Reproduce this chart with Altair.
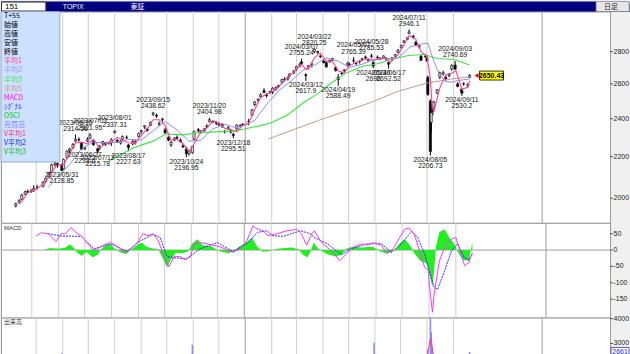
import altair as alt
import pandas as pd

# ---------------- daily candles (sampled) ----------------
c_dates = [
    "2023-04-07", "2023-04-11", "2023-04-14", "2023-04-18", "2023-04-21", "2023-04-25", "2023-04-28",
    "2023-05-02", "2023-05-09", "2023-05-12", "2023-05-16", "2023-05-19", "2023-05-23", "2023-05-26", "2023-05-31",
    "2023-06-02", "2023-06-06", "2023-06-09", "2023-06-13", "2023-06-16", "2023-06-20", "2023-06-23", "2023-06-27", "2023-06-30",
    "2023-07-03", "2023-07-07", "2023-07-12", "2023-07-14", "2023-07-18", "2023-07-21", "2023-07-25", "2023-07-28",
    "2023-08-01", "2023-08-04", "2023-08-08", "2023-08-10", "2023-08-15", "2023-08-17", "2023-08-22", "2023-08-25", "2023-08-29",
    "2023-09-01", "2023-09-05", "2023-09-08", "2023-09-12", "2023-09-15", "2023-09-19", "2023-09-22", "2023-09-26", "2023-09-29",
    "2023-10-03", "2023-10-06", "2023-10-10", "2023-10-13", "2023-10-17", "2023-10-20", "2023-10-24", "2023-10-27", "2023-10-31",
    "2023-11-02", "2023-11-07", "2023-11-10", "2023-11-14", "2023-11-17", "2023-11-20", "2023-11-24", "2023-11-28",
    "2023-12-01", "2023-12-05", "2023-12-08", "2023-12-12", "2023-12-15", "2023-12-18", "2023-12-22", "2023-12-26", "2023-12-29",
    "2024-01-05", "2024-01-09", "2024-01-12", "2024-01-16", "2024-01-19", "2024-01-23", "2024-01-26", "2024-01-30",
    "2024-02-02", "2024-02-06", "2024-02-09", "2024-02-13", "2024-02-16", "2024-02-20", "2024-02-22", "2024-02-27",
    "2024-03-01", "2024-03-05", "2024-03-07", "2024-03-12", "2024-03-15", "2024-03-19", "2024-03-22", "2024-03-26", "2024-03-29",
    "2024-04-02", "2024-04-05", "2024-04-09", "2024-04-12", "2024-04-16", "2024-04-19", "2024-04-23", "2024-04-26", "2024-04-30",
    "2024-05-02", "2024-05-07", "2024-05-10", "2024-05-14", "2024-05-17", "2024-05-21", "2024-05-24", "2024-05-28", "2024-05-30",
    "2024-06-04", "2024-06-07", "2024-06-11", "2024-06-14", "2024-06-17", "2024-06-21", "2024-06-25", "2024-06-28",
    "2024-07-02", "2024-07-05", "2024-07-09", "2024-07-11", "2024-07-16", "2024-07-19", "2024-07-23", "2024-07-25", "2024-07-30",
    "2024-08-01", "2024-08-02", "2024-08-05", "2024-08-06", "2024-08-08", "2024-08-09", "2024-08-13", "2024-08-16", "2024-08-20", "2024-08-23", "2024-08-27", "2024-08-30",
    "2024-09-03", "2024-09-06", "2024-09-10", "2024-09-11", "2024-09-13", "2024-09-18", "2024-09-20",
]
c_open = [
    1965, 1980, 1995, 2018, 2030, 2030, 2035,
    2048, 2055, 2080, 2098, 2125, 2160, 2165, 2160,
    2140, 2195, 2230, 2245, 2280, 2288, 2270, 2240, 2280,
    2295, 2280, 2240, 2240, 2265, 2270, 2270, 2270,
    2325, 2285, 2270, 2290, 2300, 2260, 2265, 2270, 2305,
    2330, 2355, 2345, 2365, 2425, 2420, 2370, 2395, 2340,
    2300, 2260, 2285, 2300, 2285, 2255, 2240, 2215, 2220,
    2290, 2340, 2325, 2335, 2360, 2385, 2385, 2380,
    2368, 2370, 2330, 2345, 2335, 2315, 2345, 2360, 2370,
    2385, 2420, 2480, 2505, 2525, 2560, 2535, 2550,
    2550, 2570, 2585, 2610, 2625, 2630, 2650, 2670,
    2690, 2710, 2735, 2655, 2700, 2720, 2800, 2800, 2770,
    2740, 2730, 2735, 2745, 2700, 2640, 2665, 2680, 2715,
    2720, 2740, 2725, 2735, 2750, 2765, 2745, 2770, 2730,
    2765, 2755, 2760, 2755, 2730, 2750, 2770, 2795,
    2825, 2860, 2880, 2920, 2900, 2860, 2830, 2770, 2770,
    2760, 2640, 2500, 2380, 2450, 2460, 2545, 2640, 2660, 2640, 2650, 2690,
    2715, 2600, 2560, 2560, 2600, 2590, 2640,
]
c_high = [
    1980, 1995, 2020, 2035, 2040, 2042, 2060,
    2062, 2080, 2098, 2125, 2165, 2175, 2170, 2165,
    2190, 2232, 2245, 2270, 2314.56, 2300, 2275, 2250, 2300,
    2321.95, 2285, 2245, 2260, 2282, 2275, 2278, 2295,
    2337.31, 2290, 2285, 2310, 2310, 2265, 2285, 2285, 2325,
    2340, 2365, 2350, 2385, 2438.62, 2428, 2385, 2405, 2350,
    2305, 2280, 2300, 2310, 2295, 2265, 2250, 2235, 2255,
    2335, 2350, 2340, 2350, 2370, 2404.98, 2392, 2385,
    2380, 2375, 2340, 2360, 2345, 2325, 2370, 2370, 2375,
    2400, 2455, 2500, 2515, 2545, 2575, 2545, 2560,
    2580, 2585, 2595, 2630, 2640, 2645, 2665, 2685,
    2710, 2730, 2755.24, 2665, 2715, 2730, 2820.25, 2805, 2780,
    2750, 2740, 2750, 2760, 2705, 2660, 2675, 2690, 2735,
    2730, 2765.39, 2735, 2745, 2760, 2775, 2755, 2785.53, 2740,
    2775, 2765, 2775, 2765, 2735, 2765, 2785, 2815,
    2845, 2875, 2895, 2946.1, 2910, 2870, 2845, 2780, 2785,
    2770, 2650, 2510, 2440, 2470, 2500, 2570, 2675, 2680, 2650, 2665, 2720,
    2740.69, 2610, 2575, 2570, 2610, 2605, 2660,
]
c_low = [
    1958, 1975, 1992, 2015, 2022, 2025, 2030,
    2040, 2050, 2070, 2095, 2120, 2150, 2145, 2128.85,
    2138, 2190, 2220, 2240, 2275, 2278, 2235, 2233.6, 2275,
    2290, 2255, 2215.78, 2235, 2260, 2255, 2262, 2255,
    2320, 2270, 2262, 2285, 2290, 2227.63, 2258, 2262, 2300,
    2320, 2345, 2330, 2360, 2415, 2405, 2360, 2385, 2320,
    2280, 2250, 2280, 2290, 2270, 2245, 2196.95, 2205, 2215,
    2285, 2325, 2320, 2330, 2350, 2380, 2375, 2365,
    2360, 2350, 2320, 2340, 2320, 2295.51, 2340, 2355, 2360,
    2365, 2415, 2470, 2495, 2515, 2545, 2520, 2540,
    2540, 2560, 2575, 2600, 2615, 2620, 2640, 2660,
    2680, 2700, 2715, 2617.9, 2690, 2700, 2790, 2785, 2760,
    2725, 2700, 2730, 2740, 2675, 2588.49, 2655, 2665, 2710,
    2710, 2730, 2715, 2725, 2745, 2755, 2735, 2760, 2696,
    2755, 2745, 2755, 2740, 2692.52, 2740, 2765, 2790,
    2820, 2855, 2875, 2915, 2885, 2835, 2820, 2740, 2760,
    2735, 2530, 2206.73, 2330, 2420, 2450, 2540, 2630, 2650, 2620, 2640, 2680,
    2685, 2580, 2545, 2530.2, 2590, 2580, 2635,
]
c_close = [
    1975, 1990, 2015, 2030, 2028, 2035, 2045,
    2050, 2075, 2094, 2120, 2160, 2168, 2157, 2132,
    2186, 2228, 2240, 2263, 2290, 2286, 2238, 2245, 2288,
    2313, 2262, 2228, 2254, 2278, 2263, 2271, 2288,
    2333, 2277, 2280, 2304, 2299, 2247, 2278, 2279, 2320,
    2335, 2362, 2337, 2380, 2432, 2415, 2375, 2399, 2323,
    2285, 2275, 2295, 2296, 2278, 2250, 2215, 2230, 2253,
    2332, 2335, 2330, 2344, 2356, 2395, 2383, 2376,
    2372, 2360, 2332, 2352, 2328, 2310, 2366, 2362, 2366,
    2385, 2450, 2495, 2508, 2536, 2550, 2530, 2555,
    2575, 2580, 2590, 2626, 2630, 2640, 2660, 2677,
    2705, 2720, 2725, 2650, 2710, 2722, 2815, 2796, 2768,
    2731, 2703, 2744, 2756, 2681, 2626, 2662, 2685, 2728,
    2720, 2744, 2727, 2739, 2755, 2760, 2750, 2773, 2710,
    2760, 2757, 2773, 2758, 2720, 2760, 2780, 2809,
    2840, 2869, 2890, 2929, 2895, 2840, 2835, 2745, 2769,
    2742, 2538, 2227, 2434, 2442, 2495, 2564, 2668, 2668, 2632, 2656, 2712,
    2690, 2585, 2565, 2546, 2599, 2598, 2650.43,
]

# ---------------- moving averages ----------------
ma1_dates = ["2023-04-11", "2023-04-14", "2023-04-21", "2023-04-28", "2023-05-02", "2023-05-12", "2023-05-19", "2023-05-26",
             "2023-06-02", "2023-06-09", "2023-06-16", "2023-06-23", "2023-06-30", "2023-07-07", "2023-07-14", "2023-07-21",
             "2023-07-28", "2023-08-04", "2023-08-10", "2023-08-18", "2023-08-25", "2023-09-01", "2023-09-08", "2023-09-15",
             "2023-09-22", "2023-09-29", "2023-10-06", "2023-10-13", "2023-10-20", "2023-10-27", "2023-11-02", "2023-11-10",
             "2023-11-17", "2023-11-24", "2023-12-01", "2023-12-08", "2023-12-15", "2023-12-22", "2023-12-29", "2024-01-05",
             "2024-01-12", "2024-01-19", "2024-01-26", "2024-02-02", "2024-02-09", "2024-02-16", "2024-02-22", "2024-03-01",
             "2024-03-07", "2024-03-12", "2024-03-15", "2024-03-22", "2024-03-29", "2024-04-05", "2024-04-12", "2024-04-19",
             "2024-04-26", "2024-05-02", "2024-05-10", "2024-05-17", "2024-05-24", "2024-05-31", "2024-06-07", "2024-06-14",
             "2024-06-19", "2024-06-28", "2024-07-05", "2024-07-11", "2024-07-19", "2024-07-25", "2024-08-01", "2024-08-05",
             "2024-08-07", "2024-08-09", "2024-08-16", "2024-08-23", "2024-08-30", "2024-09-04", "2024-09-11", "2024-09-18",
             "2024-09-20"]
ma1_vals = [1975, 1985, 2025, 2038, 2045, 2075, 2125, 2160,
            2160, 2215, 2270, 2275, 2265, 2290, 2245, 2265,
            2275, 2300, 2285, 2270, 2268, 2310, 2345, 2395,
            2395, 2365, 2285, 2290, 2268, 2225, 2265, 2330,
            2350, 2388, 2378, 2348, 2340, 2330, 2363, 2375,
            2450, 2520, 2540, 2555, 2583, 2620, 2648, 2690,
            2720, 2690, 2690, 2760, 2790, 2740, 2740, 2680,
            2665, 2710, 2732, 2745, 2755, 2745, 2755, 2760,
            2730, 2780, 2845, 2905, 2880, 2800, 2770, 2630,
            2480, 2440, 2575, 2655, 2665, 2680, 2570, 2580,
            2620]

ma2_dates = ["2023-05-15", "2023-05-26", "2023-06-09", "2023-06-23", "2023-07-07", "2023-07-21", "2023-08-04", "2023-08-18",
             "2023-09-01", "2023-09-15", "2023-09-29", "2023-10-13", "2023-10-27", "2023-11-10", "2023-11-24", "2023-12-08",
             "2023-12-22", "2024-01-12", "2024-01-26", "2024-02-09", "2024-02-22", "2024-03-08", "2024-03-22", "2024-04-05",
             "2024-04-19", "2024-05-02", "2024-05-17", "2024-05-31", "2024-06-14", "2024-06-28", "2024-07-12", "2024-07-26",
             "2024-08-02", "2024-08-09", "2024-08-16", "2024-08-23", "2024-08-30", "2024-09-06", "2024-09-13", "2024-09-20"]
ma2_vals = [2050, 2100, 2160, 2240, 2275, 2270, 2275, 2290,
            2285, 2335, 2385, 2340, 2280, 2285, 2345, 2370,
            2350, 2390, 2480, 2560, 2610, 2680, 2715, 2760,
            2740, 2700, 2720, 2750, 2755, 2760, 2830, 2850,
            2855, 2740, 2650, 2615, 2610, 2620, 2625, 2630]

ma3_dates = ["2023-07-25", "2023-08-23", "2023-09-15", "2023-09-30", "2023-10-19", "2023-11-08", "2023-11-26", "2023-12-16",
             "2023-12-31", "2024-01-16", "2024-01-31", "2024-02-19", "2024-03-09", "2024-03-25", "2024-04-12", "2024-04-28",
             "2024-05-17", "2024-06-05", "2024-06-20", "2024-07-10", "2024-07-29", "2024-08-13", "2024-09-02", "2024-09-20"]
ma3_vals = [2178, 2246, 2280, 2318, 2313, 2324, 2329, 2333,
            2344, 2360, 2377, 2420, 2490, 2540, 2610, 2665,
            2706, 2725, 2750, 2775, 2782, 2756, 2750, 2715]

ma5_dates = ["2024-01-28", "2024-03-27", "2024-05-28", "2024-06-28", "2024-07-31", "2024-08-30", "2024-09-20"]
ma5_vals = [2291, 2391, 2493, 2556, 2604, 2630, 2642]

# ---------------- peak / trough annotations ----------------
lab_dates = ["2023-05-31", "2023-06-16", "2023-06-27", "2023-07-03", "2023-07-12", "2023-08-01", "2023-08-17", "2023-09-15",
             "2023-10-24", "2023-11-20", "2023-12-18", "2024-03-07", "2024-03-12", "2024-03-22", "2024-04-19", "2024-05-07",
             "2024-05-28", "2024-05-30", "2024-06-17", "2024-07-11", "2024-08-05", "2024-09-03", "2024-09-11"]
lab_vals = [2128.85, 2314.56, 2233.6, 2321.95, 2215.78, 2337.31, 2227.63, 2438.62,
            2196.95, 2404.98, 2295.51, 2755.24, 2617.9, 2820.25, 2588.49, 2765.39,
            2785.53, 2696, 2692.52, 2946.1, 2206.73, 2740.69, 2530.2]
lab_kind = ["lo", "hi", "lo", "hi", "lo", "hi", "lo", "hi",
            "lo", "hi", "lo", "hi", "lo", "hi", "lo", "hi",
            "hi", "lo", "lo", "hi", "lo", "hi", "lo"]

# ---------------- MACD ----------------
macd_dates = ["2023-05-06", "2023-05-12", "2023-05-20", "2023-05-29", "2023-06-04", "2023-06-09", "2023-06-15", "2023-06-21",
              "2023-06-27", "2023-07-05", "2023-07-10", "2023-07-16", "2023-07-23", "2023-07-31", "2023-08-08", "2023-08-17",
              "2023-08-23", "2023-08-31", "2023-09-06", "2023-09-12", "2023-09-18", "2023-09-24", "2023-09-30", "2023-10-06",
              "2023-10-12", "2023-10-19", "2023-10-25", "2023-10-31", "2023-11-04", "2023-11-11", "2023-11-19", "2023-11-26",
              "2023-12-04", "2023-12-12", "2023-12-19", "2023-12-27", "2024-01-04", "2024-01-11", "2024-01-17", "2024-01-23",
              "2024-01-28", "2024-02-08", "2024-02-19", "2024-03-02", "2024-03-07", "2024-03-13", "2024-03-19", "2024-03-22",
              "2024-03-30", "2024-04-06", "2024-04-14", "2024-04-20", "2024-04-28", "2024-05-05", "2024-05-15", "2024-05-22",
              "2024-05-30", "2024-06-07", "2024-06-14", "2024-06-22", "2024-06-28", "2024-07-04", "2024-07-09", "2024-07-15",
              "2024-07-21", "2024-07-27", "2024-07-31", "2024-08-02", "2024-08-05", "2024-08-07", "2024-08-13", "2024-08-19",
              "2024-08-27", "2024-09-01", "2024-09-07", "2024-09-11", "2024-09-16", "2024-09-20"]
macd_vals = [43, 53, 50, 26, 50, 50, 69, 54,
             44, 19, 1, 4, 16, 23, 10, -7,
             4, 23, 50, 44, 50, 28, -17, -51,
             -20, -20, -30, -20, 19, 23, 19, 15,
             10, 1, -7, 4, 28, 74, 63, 59,
             44, 50, 59, 63, 50, 15, 50, 59,
             23, 8, -11, -33, -11, 8, 19, 16,
             23, 15, -11, 8, 38, 64, 67, 49,
             -2, -53, -60, -120, -190, -133, -33, 8,
             34, 38, -12, -48, -38, -7]

sig_dates = ["2023-05-20", "2023-06-04", "2023-06-27", "2023-07-12", "2023-07-31", "2023-08-19", "2023-09-03", "2023-09-18",
             "2023-09-26", "2023-10-04", "2023-10-12", "2023-10-27", "2023-11-11", "2023-12-01", "2023-12-19", "2024-01-04",
             "2024-01-16", "2024-01-27", "2024-02-03", "2024-02-15", "2024-03-06", "2024-03-17", "2024-03-22", "2024-04-06",
             "2024-04-22", "2024-05-03", "2024-05-22", "2024-06-07", "2024-06-19", "2024-06-30", "2024-07-12", "2024-07-19",
             "2024-07-27", "2024-08-07", "2024-08-11", "2024-08-19", "2024-08-27", "2024-09-03", "2024-09-11", "2024-09-16",
             "2024-09-20"]
sig_vals = [50, 43, 42, 4, 19, -4, 28, 48,
            38, -20, -24, -26, 4, 23, -4, 19,
            54, 59, 44, 42, 59, 50, 38, 19,
            -14, 4, 19, 19, -7, 19, 57, 38,
            -12, -114, -120, -63, -2, 19, -24, -30,
            -12]

osci_dates = ["2023-05-15", "2023-05-22", "2023-06-01", "2023-06-09", "2023-06-14", "2023-06-19", "2023-06-23", "2023-06-28",
              "2023-07-03", "2023-07-10", "2023-07-16", "2023-07-19", "2023-07-25", "2023-07-31", "2023-08-05", "2023-08-12",
              "2023-08-18", "2023-08-23", "2023-08-30", "2023-09-05", "2023-09-10", "2023-09-18", "2023-09-24", "2023-09-28",
              "2023-10-04", "2023-10-08", "2023-10-14", "2023-10-22", "2023-10-28", "2023-11-02", "2023-11-08", "2023-11-14",
              "2023-11-24", "2023-11-30", "2023-12-06", "2023-12-14", "2023-12-20", "2023-12-26", "2024-01-04", "2024-01-10",
              "2024-01-16", "2024-01-22", "2024-01-30", "2024-02-10", "2024-02-25", "2024-03-04", "2024-03-09", "2024-03-14",
              "2024-03-18", "2024-03-21", "2024-03-26", "2024-04-05", "2024-04-15", "2024-04-22", "2024-04-28", "2024-05-05",
              "2024-05-15", "2024-05-28", "2024-06-05", "2024-06-12", "2024-06-18", "2024-06-24", "2024-06-28", "2024-07-04",
              "2024-07-10", "2024-07-15", "2024-07-22", "2024-07-29", "2024-08-02", "2024-08-05", "2024-08-07", "2024-08-09",
              "2024-08-13", "2024-08-19", "2024-08-24", "2024-08-30", "2024-09-03", "2024-09-09", "2024-09-16", "2024-09-18",
              "2024-09-20"]
osci_vals = [0, 6, 4, 8, 18, 5, -10, -17,
             -5, -22, -15, 0, 15, 18, 3, -8,
             -12, 0, 15, 23, 10, 5, 2, -20,
             -53, -30, -8, -10, -5, 20, 33, 15,
             12, 2, -5, -10, -3, 10, 25, 38,
             10, -5, -3, 5, 8, 2, -15, -22,
             0, 23, 5, -12, -20, -15, 5, 10,
             8, 10, -3, -10, -8, 5, 20, 33,
             15, -10, -33, -40, -80, -114, -60, 10,
             55, 63, 40, 20, -5, -30, -33, -5,
             23]

# ---------------- volume (only the days that reach the visible range) ----------------
vol_dates = ["2023-05-31", "2023-10-31", "2024-05-31", "2024-08-02", "2024-08-05", "2024-08-06", "2024-08-07", "2024-09-20"]
vol_vals = [2620, 2950, 3030, 2750, 4500, 3450, 2800, 2661]
vma_dates = ["2024-08-01", "2024-08-05", "2024-08-06", "2024-08-07", "2024-08-09"]
vma_vals = [2450, 3200, 3180, 2900, 2450]

# ---------------- misc ----------------
month_lines = ["2023-05-01", "2023-06-01", "2023-07-01", "2023-08-01", "2023-09-01", "2023-10-01", "2023-11-01",
               "2023-12-01", "2024-01-01", "2024-02-01", "2024-03-01", "2024-04-01", "2024-05-01", "2024-06-01",
               "2024-07-01", "2024-08-01", "2024-09-01", "2024-12-14"]
dark_lines = ["2024-01-01", "2024-12-14"]
leg_labels = ["T+55", "始値", "高値", "安値", "終値", "平均1", "平均2", "平均3", "平均5", "MACD", "ｼｸﾞﾅﾙ", "OSCI",
              "売買高", "V平均1", "V平均2", "V平均3"]
leg_colors = ["#000000", "#000000", "#000000", "#000000", "#000000", "#ff3fa0", "#9a9aff", "#3ce63c", "#c89a80",
              "#ff00ff", "#2a2aff", "#00cc00", "#8a8aff", "#ff2a6a", "#1a1aff", "#22bb22"]
price_ticks = [2000, 2200, 2400, 2600, 2800]
macd_ticks = [50, 0, -50, -100, -150]
vol_ticks = [3000, 4000]

# ---------------- layout constants ----------------
BASE = pd.Timestamp("2024-01-01")


def dn(s):
    return int((pd.Timestamp(s) - BASE).days)


W = 611
H_HEAD, H_MAIN, H_MACD, H_VOL = 10, 212, 95, 37
XDOM = [-280.5, 421.8]
PRICE_DOM = [1890, 3070]
MACD_DOM = [-206.4, 83.2]
VOL_DOM = [2560, 4040]
NARROW = "Liberation Sans Narrow, Liberation Sans, sans-serif"
JP = "Noto Sans CJK JP"

xenc = alt.X("d:Q", scale=alt.Scale(domain=XDOM, nice=False, zero=False), axis=None)


def series(dates, vals):
    return pd.DataFrame({"d": [dn(s) for s in dates], "v": vals})


one = pd.DataFrame({"k": [0]})

vgrid_df = pd.DataFrame({"d": [dn(s) for s in month_lines],
                         "dark": [1 if s in dark_lines else 0 for s in month_lines]})
vgrid = alt.Chart(vgrid_df).mark_rule(strokeWidth=1).encode(
    x=xenc,
    color=alt.Color("dark:N", scale=alt.Scale(domain=[0, 1], range=["#cfcfcf", "#9c9c9c"]), legend=None),
)


def grid_axis(values):
    return alt.Axis(orient="right", values=values, grid=True, gridDash=[2, 2], gridColor="#c4c4c4",
                    labels=False, ticks=False, domain=False, title=None)


def tick_labels(values, scale):
    df = pd.DataFrame({"v": values, "t": [str(v) for v in values]})
    ticks = alt.Chart(df).mark_rule(color="#555", strokeWidth=1).encode(
        x=alt.value(611), x2=alt.value(614), y=alt.Y("v:Q", scale=scale, axis=None))
    txt = alt.Chart(df).mark_text(align="left", baseline="middle", fontSize=7, font="Liberation Sans",
                                  color="#222").encode(
        x=alt.value(614.5), y=alt.Y("v:Q", scale=scale, axis=None), text="t:N")
    return [ticks, txt]


# ---------------- header ----------------
header = alt.layer(
    alt.Chart(one).mark_rect(fill="#000080").encode(x=alt.value(0), x2=alt.value(630), y=alt.value(0), y2=alt.value(10)),
    alt.Chart(one).mark_rect(fill="white", stroke="#333", strokeWidth=1).encode(
        x=alt.value(0.5), x2=alt.value(45), y=alt.value(0.5), y2=alt.value(9.5)),
    alt.Chart(one).mark_rect(fill="#e6e6e6", stroke="#999", strokeWidth=0.6).encode(
        x=alt.value(597), x2=alt.value(630), y=alt.value(0), y2=alt.value(10)),
    alt.Chart(pd.DataFrame({"t": ["151"]})).mark_text(align="left", baseline="middle", fontSize=8, font="Liberation Sans",
                                                     color="black").encode(x=alt.value(4), y=alt.value(5), text="t:N"),
    alt.Chart(pd.DataFrame({"t": ["TOPIX"]})).mark_text(align="left", baseline="middle", fontSize=7, font="Liberation Sans",
                                                       color="white").encode(x=alt.value(62), y=alt.value(5), text="t:N"),
    alt.Chart(pd.DataFrame({"t": ["東証"]})).mark_text(align="left", baseline="middle", fontSize=7, font=JP,
                                                     color="white").encode(x=alt.value(130), y=alt.value(5), text="t:N"),
    alt.Chart(pd.DataFrame({"t": ["日足"]})).mark_text(align="left", baseline="middle", fontSize=7, font=JP,
                                                     color="#222").encode(x=alt.value(605), y=alt.value(5), text="t:N"),
).properties(width=630, height=H_HEAD, view=alt.ViewBackground(stroke="transparent", fill="#000080"))

# ---------------- main price panel ----------------
pscale = alt.Scale(type="log", domain=PRICE_DOM, nice=False)
candles = pd.DataFrame({"d": [dn(s) for s in c_dates], "o": c_open, "h": c_high, "l": c_low, "c": c_close})

wick = alt.Chart(candles).mark_rule(color="black", strokeWidth=1).encode(
    x=xenc, y=alt.Y("l:Q", scale=pscale, axis=grid_axis(price_ticks)), y2="h:Q")
body = alt.Chart(candles).mark_bar(size=2.2, stroke="black", strokeWidth=0.6).encode(
    x=xenc, y=alt.Y("o:Q", scale=pscale, axis=None), y2="c:Q",
    fill=alt.condition("datum.c >= datum.o", alt.value("#d8d8d8"), alt.value("black")))


def ma_line(dates, vals, color, width=1.0):
    return alt.Chart(series(dates, vals)).mark_line(color=color, strokeWidth=width).encode(
        x=xenc, y=alt.Y("v:Q", scale=pscale, axis=None))


ma5 = ma_line(ma5_dates, ma5_vals, "#c89a80")
ma3 = ma_line(ma3_dates, ma3_vals, "#3ce63c", 1.1)
ma2 = ma_line(ma2_dates, ma2_vals, "#8c8cf0")
ma1 = ma_line(ma1_dates, ma1_vals, "#ff3fa0", 1.1)

labels = pd.DataFrame({
    "d": [dn(s) for s in lab_dates],
    "v": lab_vals,
    "kind": lab_kind,
    "date_t": [s.replace("-", "/") for s in lab_dates],
    "val_t": ["%g" % v for v in lab_vals],
})


def lab_layer(kind, field, dy):
    return alt.Chart(labels).transform_filter(alt.datum.kind == kind).mark_text(
        fontSize=6.8, font=NARROW, color="#111", baseline="middle", dy=dy).encode(
        x=xenc, y=alt.Y("v:Q", scale=pscale, axis=None), text=f"{field}:N")


lab_layers = [lab_layer("hi", "date_t", -12), lab_layer("hi", "val_t", -5.5),
              lab_layer("lo", "date_t", 4.5), lab_layer("lo", "val_t", 10.5)]

last_df = pd.DataFrame({"d": [dn(c_dates[-1])], "v": [c_close[-1]], "t": ["%.2f" % c_close[-1]]})
price_box = alt.Chart(last_df).mark_rect(fill="#ffff00", stroke="black", strokeWidth=0.8,
                                         xOffset=10, x2Offset=34, yOffset=-4.5, y2Offset=4.5).encode(
    x=xenc, x2="d:Q", y=alt.Y("v:Q", scale=pscale, axis=None), y2="v:Q")
price_arrow = alt.Chart(last_df).mark_point(shape="triangle-left", filled=True, color="#ee0000", size=22,
                                            xOffset=7, opacity=1).encode(
    x=xenc, y=alt.Y("v:Q", scale=pscale, axis=None))
price_text = alt.Chart(last_df).mark_text(dx=22, fontSize=7, fontWeight="bold", font="Liberation Sans",
                                          color="black", baseline="middle").encode(
    x=xenc, y=alt.Y("v:Q", scale=pscale, axis=None), text="t:N")

leg_df = pd.DataFrame({"t": leg_labels, "c": leg_colors, "i": list(range(len(leg_labels)))})
leg_box = alt.Chart(one).mark_rect(fill="#cce0ff", stroke="#8a9ab8", strokeWidth=0.8).encode(
    x=alt.value(0), x2=alt.value(59), y=alt.value(0), y2=alt.value(151))
leg_text = alt.Chart(leg_df).transform_calculate(yp="4.5 + datum.i * 9.1").mark_text(
    align="left", baseline="middle", fontSize=7, font=JP).encode(
    x=alt.value(3), y=alt.Y("yp:Q", scale=None), text="t:N", color=alt.Color("c:N", scale=None))

main = alt.layer(vgrid, wick, body, ma5, ma3, ma2, ma1, *lab_layers, price_arrow, price_box, price_text,
                 leg_box, leg_text, *tick_labels(price_ticks, pscale)).properties(
    width=W, height=H_MAIN, view=alt.ViewBackground(fill="white", stroke="#9a9a9a"))

# ---------------- MACD panel ----------------
mscale = alt.Scale(domain=MACD_DOM, nice=False, zero=False)
zero_rule = alt.Chart(pd.DataFrame({"z": [0]})).mark_rule(color="#a0a0a0", strokeWidth=1).encode(
    y=alt.Y("z:Q", scale=mscale, axis=grid_axis(macd_ticks)))
osci = alt.Chart(series(osci_dates, osci_vals)).mark_area(color="#22ee22", opacity=1).encode(
    x=xenc, y=alt.Y("v:Q", scale=mscale, axis=None), y2=alt.datum(0))
sig = alt.Chart(series(sig_dates, sig_vals)).mark_line(color="#2a2aff", strokeWidth=1, strokeDash=[2, 1]).encode(
    x=xenc, y=alt.Y("v:Q", scale=mscale, axis=None))
macd = alt.Chart(series(macd_dates, macd_vals)).mark_line(color="#ff33ff", strokeWidth=1).encode(
    x=xenc, y=alt.Y("v:Q", scale=mscale, axis=None))
macd_lab = alt.Chart(pd.DataFrame({"t": ["MACD"]})).mark_text(
    align="left", baseline="middle", fontSize=6, font="Liberation Sans", color="#333").encode(
    x=alt.value(3), y=alt.value(5), text="t:N")
macd_panel = alt.layer(zero_rule, vgrid, osci, sig, macd, macd_lab, *tick_labels(macd_ticks, mscale)).properties(
    width=W, height=H_MACD, view=alt.ViewBackground(fill="white", stroke="#9a9a9a"))

# ---------------- volume panel ----------------
vscale = alt.Scale(domain=VOL_DOM, nice=False, zero=False)
vbars = alt.Chart(series(vol_dates, vol_vals)).mark_bar(size=1.6, color="#8a8aff", clip=True).encode(
    x=xenc, y=alt.Y("v:Q", scale=vscale, axis=grid_axis(vol_ticks)), y2=alt.datum(VOL_DOM[0]))
vma = alt.Chart(series(vma_dates, vma_vals)).mark_line(color="#ff3a7a", strokeWidth=1, clip=True).encode(
    x=xenc, y=alt.Y("v:Q", scale=vscale, axis=None))
vol_lab = alt.Chart(pd.DataFrame({"t": ["出来高"]})).mark_text(
    align="left", baseline="middle", fontSize=6, font=JP, color="#333").encode(
    x=alt.value(3), y=alt.value(4), text="t:N")
last_vol = pd.DataFrame({"v": [vol_vals[-1]], "t": [str(vol_vals[-1])]})
vol_box = alt.Chart(last_vol).mark_rect(fill="white", stroke="#3333cc", strokeWidth=0.8,
                                        yOffset=-4.5, y2Offset=4.5).encode(
    x=alt.value(612), x2=alt.value(630), y=alt.Y("v:Q", scale=vscale, axis=None), y2="v:Q")
vol_text = alt.Chart(last_vol).mark_text(fontSize=7, font="Liberation Sans", color="#2222dd",
                                         baseline="middle", align="center").encode(
    x=alt.value(621), y=alt.Y("v:Q", scale=vscale, axis=None), text="t:N")
vol_panel = alt.layer(vgrid, vbars, vma, vol_lab, *tick_labels(vol_ticks, vscale), vol_box, vol_text).properties(
    width=W, height=H_VOL, view=alt.ViewBackground(fill="white", stroke="#9a9a9a"))

chart = alt.vconcat(header, main, macd_panel, vol_panel, spacing=0, bounds="flush").properties(
    padding=0, background="#f0f0f0")

chart.save("out.html", embed_options={"renderer": "svg", "actions": False})
